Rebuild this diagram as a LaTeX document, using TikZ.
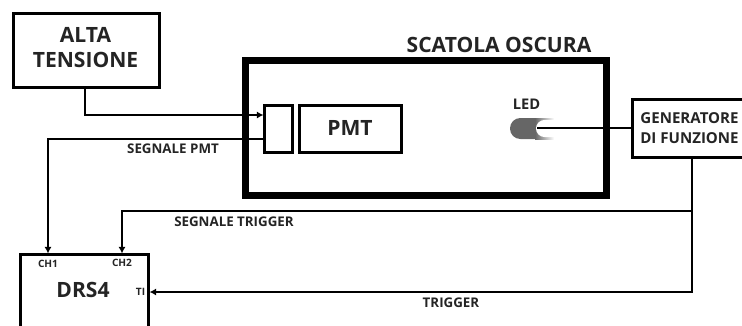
\documentclass[tikz,border=0pt]{standalone}
\usepackage{fontspec}
\setmainfont{Open Sans}
\usetikzlibrary{arrows.meta}

\definecolor{inktext}{rgb}{0.14,0.14,0.14}
\definecolor{ledgray}{rgb}{0.4,0.4,0.4}

\tikzset{every picture/.style={line width=0.75pt}}
\tikzset{
  blockbox/.style={draw=black,line width=2.25pt,inner sep=0pt,outer sep=0pt,anchor=north west},
  darkbox/.style={draw=black,line width=5.25pt,inner sep=0pt,outer sep=0pt,anchor=north west},
  wire/.style={draw=black,line width=1.5pt},
  wirearrow/.style={wire,shorten >=0.8pt,-{Latex[length=5pt,width=5.5pt]}},
  bigtext/.style={inner sep=0pt,text=inktext,font=\bfseries\fontsize{15.8}{19}\selectfont,align=center},
  midtext/.style={inner sep=0pt,text=inktext,font=\bfseries\fontsize{10}{12}\selectfont},
  smalltext/.style={inner sep=0pt,text=inktext,font=\bfseries\fontsize{7.6}{9}\selectfont}
}

\begin{document}
\begin{tikzpicture}[x=0.75pt,y=0.75pt,yscale=-1]
  \useasboundingbox (0,0) rectangle (742,325);

  % Boxes
  \node (alta) [blockbox,minimum width=109.5pt,minimum height=55.5pt] at (13,13.5) {};
  \node (scatola) [darkbox,minimum width=271pt,minimum height=101.5pt] at (245,60.5) {};
  \node (window) [blockbox,minimum width=21pt,minimum height=35.5pt] at (264.5,105.5) {};
  \node (pmt) [blockbox,minimum width=76.5pt,minimum height=35.5pt] at (299,105.5) {};
  \node (gen) [blockbox,minimum width=86pt,minimum height=43.5pt] at (632.5,99.5) {};
  \node (drs) [blockbox,minimum width=96pt,minimum height=70pt] at (20.5,254.5) {};

  % LED
  \fill[ledgray,rounded corners=7.8pt] (545,118) -- (510,118) -- (510,139) -- (545,139) -- cycle;
  \shade[left color=ledgray,right color=white] (535,118) rectangle (554,139);
  \fill[white,rounded corners=6.3pt] (575,120) -- (536,120) -- (536,137) -- (575,137) -- cycle;
  \coordinate (led) at (537,128);

  % Labels
  \node (altatext) [bigtext] at (85.5,47.5) {ALTA\\TENSIONE};
  \node (scatolatext) [bigtext] at (499,45) {SCATOLA OSCURA};
  \node (pmttext) [bigtext] at (350,128) {PMT};
  \node (ledtext) [midtext,font=\bfseries\fontsize{11}{12}\selectfont] at (526.5,104.5) {LED};
  \node (gentext) [midtext,align=center,font=\bfseries\fontsize{11.3}{15}\selectfont] at (689.5,128) {GENERATORE\\DI FUNZIONE};
  \node (drstext) [bigtext] at (83,290) {DRS4};
  \node (ch1) [smalltext] at (48,263.5) {CH1};
  \node (ch2) [smalltext] at (122,263) {CH2};
  \node (ti) [smalltext] at (140.5,291.5) {TI};
  \node (segpmt) [midtext] at (173,149) {SEGNALE PMT};
  \node (segtrig) [midtext] at (234,222) {SEGNALE TRIGGER};
  \node (trigger) [midtext] at (451,303) {TRIGGER};

  % Connector ends
  \coordinate (altaout) at (alta.south -| 85,0);
  \coordinate (windowin) at (window.west |- 0,115);
  \coordinate (windowout) at (window.west |- 0,139);
  \coordinate (genout) at (692,159);
  \coordinate (split) at (692,211);
  \coordinate (tiin) at (drs.east |- 0,292);

  % Connectors
  \draw[wirearrow] (altaout) |- (windowin);
  \draw[wirearrow] (windowout) -| (ch1 |- drs.north);
  \draw[wire] (led) -- (gen.west |- led);
  \draw[wire] (gen.south -| genout) -- (split);
  \draw[wirearrow] (split) -| (ch2 |- drs.north);
  \draw[wirearrow] (split) |- (tiin);
\end{tikzpicture}
\end{document}
